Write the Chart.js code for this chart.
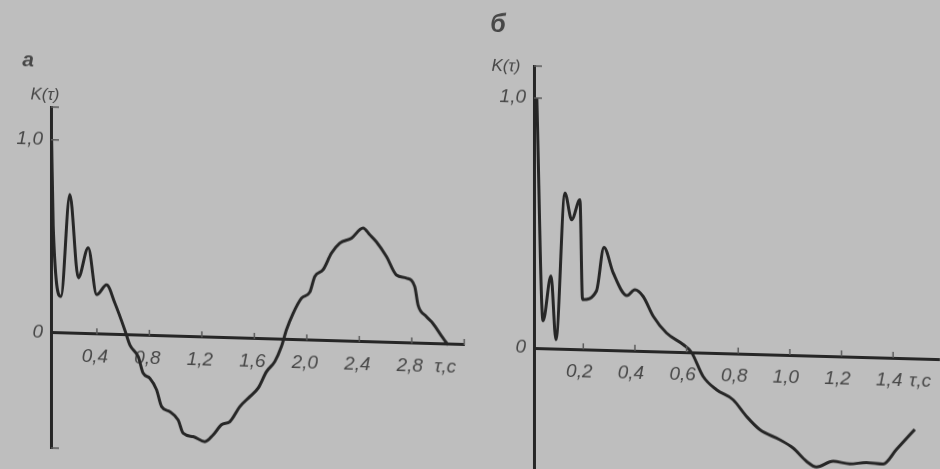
<!DOCTYPE html>
<html><head><meta charset="utf-8">
<script src="https://cdn.jsdelivr.net/npm/chart.js@4"></script>
<style>
html,body{margin:0;padding:0;background:#bebebe;width:940px;height:469px;overflow:hidden;}
.p{position:absolute;top:0;width:470px;height:469px;}
#pa{left:0;transform-origin:51px 333px;transform:skewY(1.66deg);}
#pb{left:470px;transform-origin:64px 348px;transform:skewY(1.57deg);}
</style></head><body>
<div class="p" id="pa"><canvas id="ca" width="470" height="469"></canvas></div>
<div class="p" id="pb"><canvas id="cb" width="470" height="469"></canvas></div>
<script>
// ---- Panel а ----
const tauA = [0.055, 0.067, 0.126, 0.194, 0.258, 0.334, 0.398, 0.474, 0.537, 0.613, 0.651, 0.715, 0.753, 0.804, 0.855, 0.893, 0.956, 1.019, 1.058, 1.134, 1.223, 1.286, 1.35, 1.413, 1.49, 1.566, 1.629, 1.693, 1.756, 1.807, 1.845, 1.896, 1.96, 2.023, 2.061, 2.124, 2.188, 2.251, 2.341, 2.429, 2.48, 2.531, 2.607, 2.683, 2.76, 2.823, 2.848, 2.912, 2.962, 3.038, 3.077];
const kA = [1.0, 0.553, 0.19, 0.72, 0.29, 0.446, 0.205, 0.257, 0.164, 0.026, -0.05, -0.11, -0.195, -0.22, -0.279, -0.365, -0.39, -0.432, -0.5, -0.516, -0.54, -0.504, -0.45, -0.433, -0.353, -0.3, -0.255, -0.168, -0.115, -0.036, 0.051, 0.138, 0.218, 0.25, 0.332, 0.368, 0.455, 0.508, 0.536, 0.59, 0.556, 0.52, 0.446, 0.352, 0.337, 0.295, 0.2, 0.141, 0.106, 0.032, -0.003];
const xTickValuesA = [0.4, 0.8, 1.2, 1.6, 2.0, 2.4, 2.8, 3.07];
const xTickLabelsA = ['0,4', '0,8', '1,2', '1,6', '2,0', '2,4', '2,8', 'τ,с'];
const xTickMarksA = [0.4, 0.8, 1.2, 1.6, 2.0, 2.4, 2.8, 3.2];
const yTickValuesA = [0, 1.0];
const yTickLabelsA = ['0', '1,0'];
const yTickMarksA = [1.17, 1.0, -0.596];

// ---- Panel б ----
const tauB = [0.02, 0.044, 0.075, 0.094, 0.129, 0.155, 0.187, 0.197, 0.251, 0.28, 0.316, 0.369, 0.4, 0.432, 0.471, 0.522, 0.587, 0.619, 0.664, 0.716, 0.78, 0.832, 0.884, 0.961, 1.013, 1.064, 1.103, 1.168, 1.232, 1.297, 1.361, 1.413, 1.484];
const kB = [1.0, 0.11, 0.29, 0.036, 0.623, 0.517, 0.598, 0.199, 0.235, 0.41, 0.309, 0.22, 0.244, 0.218, 0.14, 0.075, 0.03, 0.0, -0.095, -0.147, -0.185, -0.25, -0.302, -0.34, -0.372, -0.423, -0.445, -0.42, -0.429, -0.422, -0.426, -0.366, -0.284];
const xTickValuesB = [0.2, 0.4, 0.6, 0.8, 1.0, 1.2, 1.4, 1.52];
const xTickLabelsB = ['0,2', '0,4', '0,6', '0,8', '1,0', '1,2', '1,4', 'τ,с'];
const xTickMarksB = [0.2, 0.4, 0.6, 0.8, 1.0, 1.2, 1.4];
const yTickValuesB = [0, 1.0];
const yTickLabelsB = ['0', '1,0'];
const yTickMarksB = [1.128, 1.0];

const INK = '#262626';
const TXT = '#474747';
const tickFont = {family: 'Liberation Sans', style: 'italic', size: 19};

const tickMarks = {
  id: 'tickMarks',
  afterDraw(chart, args, o) {
    const {ctx, chartArea, scales: {x, y}} = chart;
    const y0 = y.getPixelForValue(0);
    ctx.save();
    ctx.strokeStyle = o.color; ctx.lineWidth = o.width;
    ctx.beginPath();
    for (const v of o.x) { const px = x.getPixelForValue(v); ctx.moveTo(px, y0); ctx.lineTo(px, y0 - o.len); }
    for (const v of o.y) { const py = y.getPixelForValue(v); ctx.moveTo(chartArea.left, py); ctx.lineTo(chartArea.left + o.len + 2, py); }
    ctx.stroke();
    ctx.restore();
  }
};
const captions = {
  id: 'captions',
  afterDraw(chart, args, o) {
    const ctx = chart.ctx;
    ctx.save();
    ctx.fillStyle = o.color; ctx.textAlign = 'center'; ctx.textBaseline = 'middle';
    for (const c of o.items) { ctx.font = c.font; ctx.fillText(c.text, c.x, c.y); }
    ctx.restore();
  }
};

function makeChart(id, tau, k, cfg) {
  return new Chart(document.getElementById(id), {
    type: 'scatter',
    data: { datasets: [{ data: tau.map((t, i) => ({x: t, y: k[i]})), showLine: true, borderColor: INK, borderWidth: 3, pointRadius: 0, cubicInterpolationMode: 'monotone', fill: false }] },
    options: {
      responsive: false, animation: false, devicePixelRatio: 1,
      layout: { padding: cfg.padding },
      plugins: { legend: {display: false}, tooltip: {enabled: false},
        tickMarks: { x: cfg.xMarks, y: cfg.yMarks, len: 6, width: 1.5, color: '#5a5a5a' },
        captions: { color: TXT, items: cfg.captions } },
      scales: {
        x: { type: 'linear', position: {y: 0}, min: cfg.xMin, max: cfg.xMax,
          afterBuildTicks: s => { s.ticks = cfg.xTicks.map(v => ({value: v})); },
          afterFit: s => { s.paddingLeft = 0; s.paddingRight = 0; },
          ticks: { callback: (v, i) => cfg.xLabels[i], font: tickFont, color: TXT, padding: cfg.xPad, labelOffset: cfg.xLabelOffset, maxRotation: 0, autoSkip: false },
          grid: { display: true, drawOnChartArea: false, drawTicks: false },
          border: { display: true, color: INK, width: 3 } },
        y: { type: 'linear', position: 'left', min: cfg.yMin, max: cfg.yMax,
          afterBuildTicks: s => { s.ticks = cfg.yTicks.map(v => ({value: v})); },
          afterFit: s => { s.width = cfg.yWidth; s.paddingTop = 0; s.paddingBottom = 0; },
          ticks: { callback: (v, i) => cfg.yLabels[i], font: tickFont, color: TXT, padding: 8, autoSkip: false },
          grid: { display: true, drawOnChartArea: false, drawTicks: false },
          border: { display: true, color: INK, width: 3 } }
      }
    },
    plugins: [tickMarks, captions]
  });
}

makeChart('ca', tauA, kA, {
  padding: {left: 0, right: 5.6, top: 107, bottom: 21},
  xMin: 0.05, xMax: 3.2, yMin: -0.596, yMax: 1.17, yWidth: 51, xPad: 11, xLabelOffset: -2,
  xTicks: xTickValuesA, xLabels: xTickLabelsA, xMarks: xTickMarksA,
  yTicks: yTickValuesA, yLabels: yTickLabelsA, yMarks: yTickMarksA,
  captions: [
    {text: 'а', x: 28, y: 61, font: 'italic bold 21px "Liberation Sans"'},
    {text: 'K(τ)', x: 45, y: 95, font: 'italic 17px "Liberation Sans"'}
  ]
});
makeChart('cb', tauB, kB, {
  padding: {left: 0, right: 0, top: 66, bottom: 1},
  xMin: 0.009, xMax: 1.581, yMin: -0.48, yMax: 1.128, yWidth: 64, xPad: 11, xLabelOffset: -4,
  xTicks: xTickValuesB, xLabels: xTickLabelsB, xMarks: xTickMarksB,
  yTicks: yTickValuesB, yLabels: yTickLabelsB, yMarks: yTickMarksB,
  captions: [
    {text: 'б', x: 28, y: 26, font: 'italic bold 25px "Liberation Sans"'},
    {text: 'K(τ)', x: 36, y: 67, font: 'italic 17px "Liberation Sans"'}
  ]
});
</script>
</body></html>
